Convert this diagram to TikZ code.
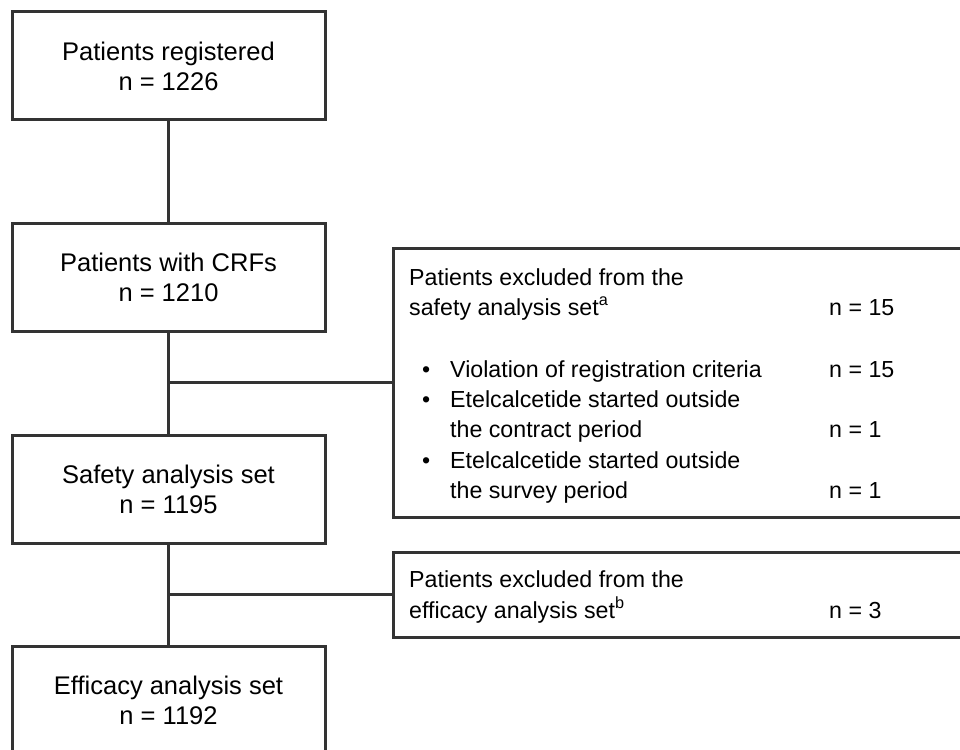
\documentclass[tikz,border=0pt]{standalone}
\usepackage{fontspec}
\setmainfont{Liberation Sans}
\definecolor{linegray}{HTML}{333333}
\tikzset{
  box/.style={draw=linegray, line width=3pt, minimum width=313pt, minimum height=108pt,
    align=center, inner sep=0pt, font=\fontsize{25.5}{30}\selectfont},
  exbox/.style={draw=linegray, line width=3pt, inner sep=0pt, outer sep=0pt,
    anchor=north west, minimum width=582pt},
  txt/.style={inner sep=0pt, anchor=base west, font=\fontsize{23.2}{30}\selectfont},
  link/.style={draw=linegray, line width=3pt}
}
\begin{document}
\begin{tikzpicture}[x=1pt, y=-1pt]
            \useasboundingbox (0,0) rectangle (960,749);
            \clip (0,0) rectangle (960,749);

            % Cajas principales
            \node[box] (reg) at (168.5,66) {Patients registered\\n = 1226};
            \node[box] (crf) at (168.5,277.5) {Patients with CRFs\\n = 1210};
            \node[box] (saf) at (168.5,489) {Safety analysis set\\n = 1195};
            \node[box] (eff) at (168.5,700) {Efficacy analysis set\\n = 1192};

            % Cajas de exclusiones
            \node[exbox, minimum height=269pt] (exsaf) at (393,248) {};
            \node[exbox, minimum height=85pt] (exeff) at (393,552) {};

            % Líneas
            \draw[link] (reg) -- (crf);
            \draw[link] (crf) -- (saf);
            \draw[link] (saf) -- (eff);
            \coordinate (br1) at (168.5,382.5);
            \coordinate (br2) at (168.5,594.5);
            \draw[link] (br1) -- (exsaf.west);
            \draw[link] (br2) -- (exeff.west);

            % Texto de la seguridad
            \node[txt] (ts1) at (409,285) {Patients excluded from the};
            \node[txt] (ts2) at (409,315) {safety analysis set\textsuperscript{a}};
            \node[txt] (ns2) at (829,315) {n = 15};
            \node[txt] (bu1) at (422,377) {\textbullet};
            \node[txt] (ts3) at (450,377) {Violation of registration criteria};
            \node[txt] (ns3) at (829,377) {n = 15};
            \node[txt] (bu2) at (422,407) {\textbullet};
            \node[txt] (ts4) at (450,407) {Etelcalcetide started outside};
            \node[txt] (ts5) at (450,437) {the contract period};
            \node[txt] (ns5) at (829,437) {n = 1};
            \node[txt] (bu3) at (422,468) {\textbullet};
            \node[txt] (ts6) at (450,468) {Etelcalcetide started outside};
            \node[txt] (ts7) at (450,498) {the survey period};
            \node[txt] (ns7) at (829,498) {n = 1};

            % Texto de la eficacia
            \node[txt] (te1) at (409,587) {Patients excluded from the};
            \node[txt] (te2) at (409,618) {efficacy analysis set\textsuperscript{b}};
            \node[txt] (ne2) at (829,618) {n = 3};
\end{tikzpicture}
\end{document}
